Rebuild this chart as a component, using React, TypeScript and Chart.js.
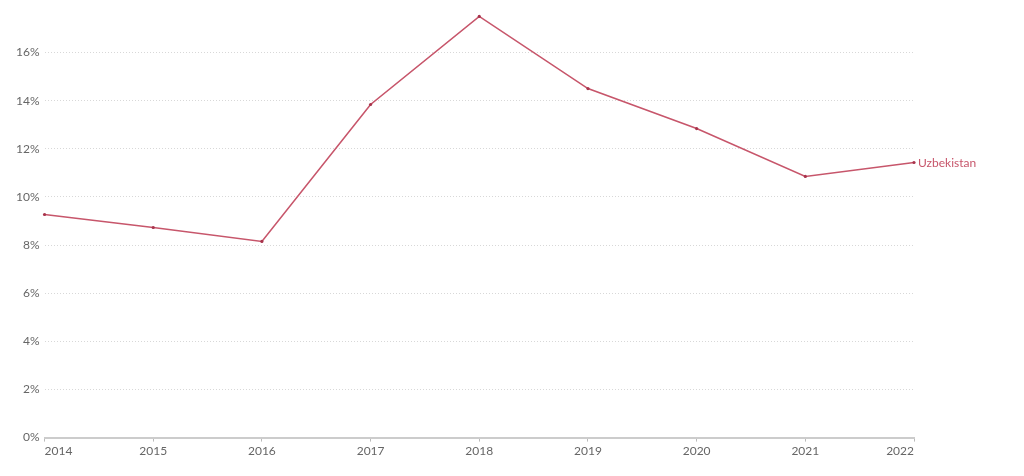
import { useEffect, useRef } from 'react'
import { Chart, registerables } from 'chart.js'

Chart.register(...registerables)

const years = ['2014', '2015', '2016', '2017', '2018', '2019', '2020', '2021', '2022']
const uzbekistan = [9.27, 8.73, 8.15, 13.84, 17.5, 14.5, 12.84, 10.85, 11.43]
const seriesName = 'Uzbekistan'
const yTickStep = 2

const lineColor = '#c7566b'

const endLabel = {
  id: 'endLabel',
  afterDatasetsDraw(chart: Chart) {
    const meta = chart.getDatasetMeta(0)
    const last = meta.data[meta.data.length - 1]
    if (!last) return
    const ctx = chart.ctx
    ctx.save()
    ctx.font = '12px Lato'
    ctx.fillStyle = lineColor
    ctx.textAlign = 'left'
    ctx.textBaseline = 'middle'
    ctx.fillText(seriesName, last.x + 4, last.y + 1)
    ctx.restore()
  }
}

export default function App() {
  const chartRef = useRef<HTMLCanvasElement>(null)

  useEffect(() => {
    document.body.style.margin = '0'
    if (!chartRef.current) return
    const ctx = chartRef.current.getContext('2d')
    if (!ctx) return

    const chart = new Chart(ctx, {
      type: 'line',
      data: {
        labels: years,
        datasets: [
          {
            label: seriesName,
            data: uzbekistan,
            borderColor: lineColor,
            backgroundColor: '#a8344c',
            borderWidth: 1.6,
            pointRadius: 1.6,
            pointBorderWidth: 0,
            tension: 0
          }
        ]
      },
      options: {
        animation: false,
        responsive: true,
        maintainAspectRatio: false,
        layout: { padding: { top: 14, right: 110, left: 11, bottom: 16 } },
        plugins: {
          legend: { display: false },
          tooltip: { enabled: false }
        },
        scales: {
          x: {
            offset: false,
            grid: { display: true, drawOnChartArea: false, tickLength: 4, color: '#bbb' },
            border: { display: true, color: '#ccc', width: 2 },
            ticks: { color: '#666', font: { family: 'Lato', size: 12 }, align: 'inner', padding: 2, maxRotation: 0 }
          },
          y: {
            min: 0,
            max: 17.6,
            afterBuildTicks: (axis: any) => {
              axis.ticks = axis.ticks.filter((t: any) => Math.abs(t.value / yTickStep - Math.round(t.value / yTickStep)) < 1e-6)
            },
            grid: { color: '#d8d8d8', drawTicks: false, lineWidth: 1 },
            border: { display: false, dash: [1, 2] },
            ticks: {
              stepSize: yTickStep,
              color: '#666',
              padding: 5,
              font: { family: 'Lato', size: 12 },
              callback: (v: any) => v + '%'
            }
          }
        }
      },
      plugins: [endLabel]
    })

    return () => chart.destroy()
  }, [])

  return (
    <div style={{ width: 1024, height: 476 }}>
      <canvas ref={chartRef} />
    </div>
  )
}
